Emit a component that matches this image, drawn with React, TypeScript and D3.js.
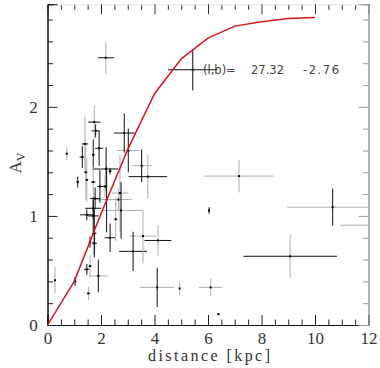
import React, { useEffect, useRef } from 'react';
import * as d3 from 'd3';

// measured stars: distance [kpc], A_V, errors and bar tone (k = black, g = grey)
const distances = [2.18, 5.43, 1.75, 1.80, 2.87, 3.02, 3.52, 3.75, 0.72, 1.30, 1.40, 1.71, 1.93, 2.19, 2.34, 1.43, 1.13, 1.47, 1.71, 1.96, 2.15, 1.78, 2.21, 2.71, 2.75, 1.71, 1.47, 1.71, 2.55, 1.75, 1.59, 1.75, 2.34, 3.20, 3.57, 4.13, 0.28, 1.03, 1.47, 1.59, 1.90, 1.53, 4.10, 4.94, 6.10, 6.39, 6.04, 7.16, 9.07, 10.66, 12.6, 2.65];
const extinctions = [2.45, 2.34, 1.86, 1.78, 1.76, 1.60, 1.46, 1.36, 1.57, 1.54, 1.66, 1.56, 1.62, 1.43, 1.41, 1.40, 1.31, 1.33, 1.31, 1.27, 1.27, 1.16, 1.15, 1.21, 1.05, 1.07, 1.01, 1.00, 0.97, 0.84, 0.76, 0.75, 0.80, 0.675, 0.815, 0.775, 0.41, 0.40, 0.51, 0.54, 0.45, 0.29, 0.345, 0.335, 0.345, 0.10, 1.05, 1.365, 0.63, 1.08, 0.915, 1.15];
const distErr = [0.30, 0.92, 0.23, 0.15, 0.39, 0.42, 0.39, 0.72, 0, 0.10, 0.12, 0.05, 0.15, 0.45, 0.05, 0.10, 0.05, 0.05, 0.08, 0.10, 0.08, 0.18, 0.45, 0.30, 0.78, 0.30, 0.25, 0.20, 0.10, 0.08, 0.05, 0.10, 0.20, 0.52, 0.50, 0.50, 0, 0.05, 0.10, 0.05, 0.35, 0.05, 0.65, 0, 0.44, 0.03, 0.03, 1.29, 1.75, 1.70, 1.65, 0.50];
const extErr = [0.145, 0.19, 0.15, 0.06, 0.18, 0.20, 0.15, 0.20, 0.06, 0.10, 0.25, 0.14, 0.16, 0.20, 0.03, 0.25, 0.05, 0.20, 0.15, 0.15, 0.10, 0.10, 0.30, 0.35, 0.26, 0.10, 0.05, 0.15, 0.20, 0.22, 0.05, 0.10, 0.13, 0.18, 0.25, 0.14, 0.12, 0.04, 0.05, 0.10, 0.15, 0.06, 0.18, 0.06, 0.08, 0.01, 0.03, 0.15, 0.20, 0.17, 0.05, 0.10];
const distErrTone = ['k', 'k', 'k', 'k', 'k', 'g', 'g', 'k', 'g', 'k', 'k', 'k', 'k', 'k', 'k', 'g', 'k', 'g', 'k', 'k', 'k', 'k', 'g', 'g', 'g', 'k', 'k', 'k', 'g', 'k', 'k', 'k', 'k', 'k', 'g', 'k', 'g', 'k', 'k', 'k', 'g', 'k', 'g', 'g', 'g', 'k', 'k', 'g', 'k', 'g', 'g', 'g'];
const extErrTone = ['g', 'k', 'g', 'k', 'k', 'k', 'k', 'g', 'g', 'k', 'g', 'k', 'k', 'k', 'k', 'g', 'k', 'g', 'g', 'k', 'g', 'k', 'k', 'g', 'k', 'k', 'k', 'k', 'g', 'k', 'k', 'k', 'k', 'k', 'g', 'g', 'g', 'k', 'k', 'g', 'k', 'g', 'k', 'g', 'g', 'k', 'k', 'g', 'g', 'k', 'g', 'g'];

// extinction model curve
const curveDist = [0, 1, 2, 3, 4, 5, 6, 7, 8, 9, 10];
const curveAv = [0, 0.40, 1.02, 1.61, 2.12, 2.44, 2.63, 2.74, 2.78, 2.81, 2.82];

const xMajor = [0, 2, 4, 6, 8, 10, 12];
const yMajor = [0, 1, 2];
const xLabel = 'distance [kpc]';
const lbText = ['(l,b)=', '27.32', '-2.76'];

const App = () => {
  const ref = useRef<SVGSVGElement>(null);

  useEffect(() => {
    const svg = d3.select(ref.current);
    svg.selectAll('*').remove();
    const width = 380;
    const height = 368;
    svg.attr('width', width).attr('height', height);

    const x = d3.scaleLinear().domain([0, 12]).range([47.5, 368.5]);
    const y = d3.scaleLinear().domain([0, 2.94]).range([325, 4.3]);
    const [x0, x1] = x.range();
    const [y0, y1] = y.range();

    const tone = (t: string) => (t === 'k' ? '#111' : '#b0b0b0');

    svg.append('defs').append('clipPath').attr('id', 'plotclip')
      .append('rect').attr('x', x0).attr('y', y1).attr('width', x1 - x0).attr('height', y0 - y1);

    const serif = '"Liberation Serif", "DejaVu Serif", serif';

    const xMinor = d3.range(0, 12.01, 0.5).filter(v => !xMajor.includes(v));
    const yMinor = d3.range(0, 2.94, 0.2).map(v => +v.toFixed(1)).filter(v => !yMajor.includes(v));

    // bottom and top axes
    const bottom = svg.append('g').attr('transform', `translate(0,${y0})`);
    bottom.call(d3.axisBottom(x).tickValues(xMinor).tickSize(-5.5).tickFormat(() => ''));
    const bottomMaj = svg.append('g').attr('transform', `translate(0,${y0})`);
    bottomMaj.call(d3.axisBottom(x).tickValues(xMajor).tickSize(-10).tickPadding(7).tickFormat(d3.format('d')));
    const top = svg.append('g').attr('transform', `translate(0,${y1})`);
    top.call(d3.axisTop(x).tickValues(xMinor).tickSize(-5.5).tickFormat(() => ''));
    const topMaj = svg.append('g').attr('transform', `translate(0,${y1})`);
    topMaj.call(d3.axisTop(x).tickValues(xMajor).tickSize(-10).tickFormat(() => ''));

    // left and right axes
    const left = svg.append('g').attr('transform', `translate(${x0},0)`);
    left.call(d3.axisLeft(y).tickValues(yMinor).tickSize(-5.5).tickFormat(() => ''));
    const leftMaj = svg.append('g').attr('transform', `translate(${x0},0)`);
    leftMaj.call(d3.axisLeft(y).tickValues(yMajor).tickSize(-10).tickPadding(20).tickFormat(d3.format('d')));
    const right = svg.append('g').attr('transform', `translate(${x1},0)`);
    right.call(d3.axisRight(y).tickValues(yMinor).tickSize(-5.5).tickFormat(() => ''));
    const rightMaj = svg.append('g').attr('transform', `translate(${x1},0)`);
    rightMaj.call(d3.axisRight(y).tickValues(yMajor).tickSize(-10).tickFormat(() => ''));

    [bottom, bottomMaj, left, leftMaj].forEach(g => {
      g.select('.domain').attr('stroke', '#111');
      g.selectAll('.tick line').attr('stroke', '#222');
    });
    [top, topMaj].forEach(g => {
      g.select('.domain').attr('stroke', '#eee');
      g.selectAll('.tick line').attr('stroke', '#333');
    });
    [right, rightMaj].forEach(g => {
      g.select('.domain').attr('stroke', '#999');
      g.selectAll('.tick line').attr('stroke', '#999');
    });
    [bottomMaj, leftMaj].forEach(g => {
      g.selectAll('.tick text').attr('font-family', serif).attr('font-size', 17).attr('fill', '#333');
    });
    leftMaj.selectAll('.tick text').attr('text-anchor', 'middle').attr('dx', 6);

    // axis titles
    svg.append('text').attr('x', 209).attr('y', 361).attr('text-anchor', 'middle')
      .attr('font-family', serif).attr('font-size', 16).attr('fill', '#333')
      .attr('textLength', 122).text(xLabel);
    const ylab = svg.append('text').attr('transform', 'translate(21,163) rotate(-90)')
      .attr('text-anchor', 'middle').attr('font-family', serif).attr('font-size', 17).attr('fill', '#333');
    ylab.append('tspan').text('A');
    ylab.append('tspan').attr('font-size', 12).attr('dy', 4).text('V');

    const plot = svg.append('g').attr('clip-path', 'url(#plotclip)');

    // error bars
    const idx = d3.range(distances.length);
    plot.selectAll('line.ex').data(idx).enter().append('line').attr('class', 'ex')
      .attr('x1', i => x(distances[i] - distErr[i])).attr('x2', i => x(distances[i] + distErr[i]))
      .attr('y1', i => y(extinctions[i])).attr('y2', i => y(extinctions[i]))
      .attr('stroke', i => tone(distErrTone[i])).attr('stroke-width', 1);
    plot.selectAll('line.ey').data(idx).enter().append('line').attr('class', 'ey')
      .attr('x1', i => x(distances[i])).attr('x2', i => x(distances[i]))
      .attr('y1', i => y(extinctions[i] - extErr[i])).attr('y2', i => y(extinctions[i] + extErr[i]))
      .attr('stroke', i => tone(extErrTone[i])).attr('stroke-width', 1);
    plot.selectAll('rect.pt').data(idx).enter().append('rect').attr('class', 'pt')
      .attr('x', i => x(distances[i]) - 1).attr('y', i => y(extinctions[i]) - 1)
      .attr('width', 2).attr('height', 2).attr('fill', '#000');

    // model curve
    const line = d3.line<number>().x(i => x(curveDist[i])).y(i => y(curveAv[i]));
    plot.append('path').attr('d', line(d3.range(curveDist.length)))
      .attr('fill', 'none').attr('stroke', '#d81818').attr('stroke-width', 1.5);

    // annotation
    const ann = svg.append('g').attr('font-family', '"DejaVu Sans", sans-serif').attr('font-size', 11.5).attr('fill', '#444');
    ann.append('text').attr('x', 203).attr('y', 74).text(lbText[0]);
    ann.append('text').attr('x', 251).attr('y', 74).attr('textLength', 33).text(lbText[1]);
    ann.append('text').attr('x', 303).attr('y', 74).attr('textLength', 36).text(lbText[2]);
  }, []);

  return (
    <div style={{ position: 'absolute', left: 0, top: 0 }}>
      <svg ref={ref}></svg>
    </div>
  );
};

export default App;
